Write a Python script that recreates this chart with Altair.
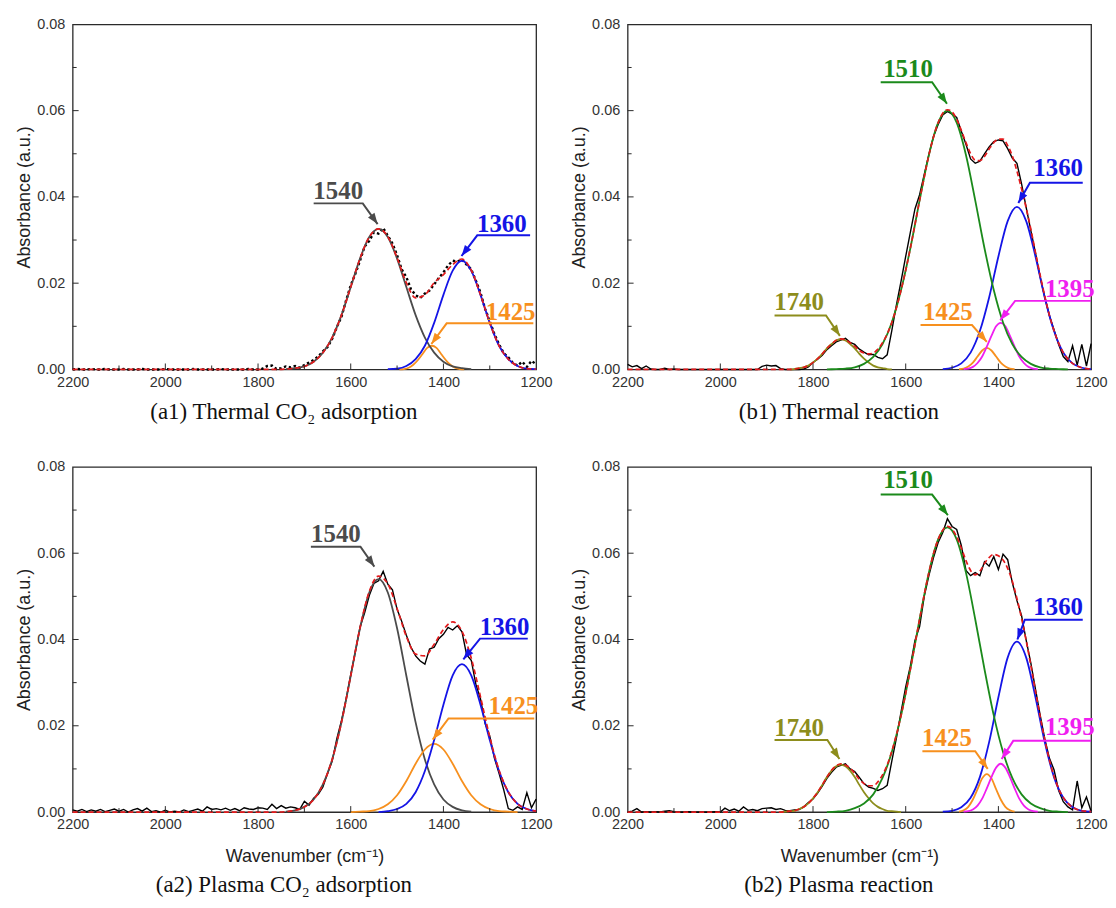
import math
import altair as alt
import pandas as pd

# ---------------- layout / style constants ----------------
W, H = 466, 347
X_LO, X_HI = 1200, 2200
Y_HI = 0.08
FRAME = "#2a2a2a"

GREY = "#4b4b4b"
BLUE = "#1414e6"
ORANGE = "#f7901e"
GREEN = "#1b8a1b"
MAGENTA = "#f01ef0"
OLIVE = "#8d8d1c"
RED = "#e31a1c"

# ---------------- data ----------------
# raw spectra: wavenumber 2200 -> 1200, step 10
A1_RAW = [0.0000, 0.0001, 0.0000, 0.0000, 0.0001, 0.0000, 0.0000, 0.0001, 0.0000, 0.0000,
          0.0000, 0.0001, 0.0000, 0.0000, 0.0000, 0.0001, 0.0000, 0.0000, 0.0000, 0.0000,
          0.0001, 0.0000, 0.0000, 0.0000, 0.0000, 0.0000, 0.0001, 0.0000, 0.0000, 0.0000,
          0.0000, 0.0000, 0.0001, 0.0000, 0.0000, 0.0000, 0.0000, 0.0000, 0.0001, 0.0000,
          0.0000, 0.0002, 0.0008, 0.0009, 0.0001, 0.0003, 0.0007, 0.0005, 0.0008, 0.0004,
          0.0010, 0.0016, 0.0022, 0.0030, 0.0042, 0.0052, 0.0071, 0.0098, 0.0122, 0.0160,
          0.0195, 0.0222, 0.0252, 0.0285, 0.0298, 0.0318, 0.0315, 0.0328, 0.0310, 0.0292,
          0.0265, 0.0232, 0.0214, 0.0186, 0.0172, 0.0166, 0.0176, 0.0183, 0.0197, 0.0212,
          0.0225, 0.0241, 0.0252, 0.0250, 0.0255, 0.0243, 0.0232, 0.0206, 0.0178, 0.0140,
          0.0112, 0.0082, 0.0058, 0.0038, 0.0028, 0.0015, 0.0009, 0.0018, 0.0006, 0.0020,
          0.0012]
B1_RAW = [0.0012, 0.0006, 0.0009, 0.0002, 0.0008, 0.0001, 0.0000, 0.0000, 0.0003, 0.0000,
          0.0001, 0.0000, 0.0000, 0.0000, 0.0000, 0.0000, 0.0000, 0.0000, 0.0000, 0.0000,
          0.0000, 0.0000, 0.0000, 0.0000, 0.0000, 0.0000, 0.0000, 0.0000, 0.0000, 0.0007,
          0.0010, 0.0008, 0.0009, 0.0002, 0.0000, 0.0000, 0.0000, 0.0000, 0.0001, 0.0006,
          0.0016, 0.0024, 0.0033, 0.0046, 0.0055, 0.0064, 0.0068, 0.0072, 0.0063, 0.0058,
          0.0047, 0.0040, 0.0034, 0.0035, 0.0028, 0.0025, 0.0034, 0.0090, 0.0150, 0.0205,
          0.0262, 0.0318, 0.0372, 0.0405, 0.0452, 0.0498, 0.0540, 0.0568, 0.0590, 0.0598,
          0.0592, 0.0584, 0.0552, 0.0522, 0.0488, 0.0478, 0.0483, 0.0500, 0.0516, 0.0528,
          0.0532, 0.0530, 0.0512, 0.0490, 0.0478, 0.0430, 0.0375, 0.0322, 0.0270, 0.0215,
          0.0168, 0.0125, 0.0092, 0.0058, 0.0030, 0.0018, 0.0055, 0.0010, 0.0058, 0.0008,
          0.0060]
A2_RAW = [0.0005, 0.0002, 0.0006, 0.0001, 0.0005, 0.0002, 0.0006, 0.0001, 0.0004, 0.0007,
          0.0002, 0.0006, 0.0000, 0.0005, 0.0008, 0.0002, 0.0009, 0.0001, 0.0003, 0.0000,
          0.0004, 0.0000, 0.0002, 0.0000, 0.0005, 0.0001, 0.0004, 0.0007, 0.0002, 0.0012,
          0.0006, 0.0008, 0.0005, 0.0009, 0.0004, 0.0008, 0.0003, 0.0010, 0.0007, 0.0006,
          0.0010, 0.0009, 0.0006, 0.0018, 0.0008, 0.0015, 0.0009, 0.0012, 0.0010, 0.0006,
          0.0025, 0.0016, 0.0032, 0.0041, 0.0058, 0.0090, 0.0118, 0.0170, 0.0212, 0.0262,
          0.0318, 0.0372, 0.0428, 0.0462, 0.0502, 0.0530, 0.0536, 0.0558, 0.0528, 0.0515,
          0.0470, 0.0442, 0.0410, 0.0382, 0.0362, 0.0350, 0.0343, 0.0378, 0.0382, 0.0402,
          0.0412, 0.0428, 0.0422, 0.0432, 0.0418, 0.0365, 0.0352, 0.0296, 0.0262, 0.0205,
          0.0176, 0.0125, 0.0090, 0.0052, 0.0008, 0.0004, 0.0012, 0.0006, 0.0045, 0.0010,
          0.0030]
B2_RAW = [0.0000, 0.0002, 0.0008, 0.0000, 0.0001, 0.0000, 0.0001, 0.0000, 0.0002, 0.0003,
          0.0001, 0.0000, 0.0000, 0.0001, 0.0000, 0.0000, 0.0000, 0.0000, 0.0000, 0.0001,
          0.0000, 0.0009, 0.0003, 0.0007, 0.0002, 0.0012, 0.0004, 0.0006, 0.0003, 0.0008,
          0.0009, 0.0010, 0.0006, 0.0008, 0.0004, 0.0003, 0.0005, 0.0006, 0.0012, 0.0022,
          0.0030, 0.0044, 0.0060, 0.0078, 0.0092, 0.0104, 0.0108, 0.0112, 0.0100, 0.0094,
          0.0080, 0.0066, 0.0058, 0.0055, 0.0050, 0.0054, 0.0062, 0.0118, 0.0172, 0.0232,
          0.0290, 0.0338, 0.0398, 0.0430, 0.0500, 0.0548, 0.0590, 0.0625, 0.0648, 0.0680,
          0.0662, 0.0655, 0.0618, 0.0560, 0.0548, 0.0555, 0.0548, 0.0580, 0.0570, 0.0592,
          0.0562, 0.0598, 0.0585, 0.0532, 0.0490, 0.0455, 0.0398, 0.0345, 0.0285, 0.0225,
          0.0170, 0.0125, 0.0098, 0.0050, 0.0024, 0.0012, 0.0005, 0.0072, 0.0010, 0.0035,
          0.0002]

# cumulative fits (red dashed): (first wavenumber, step, values)
A1_FIT = (1760, 20, [0.0000, 0.0001, 0.0003, 0.0007, 0.0018, 0.0039, 0.0074, 0.0126, 0.0191, 0.0257,
                     0.0307, 0.0326, 0.0308, 0.0259, 0.0201, 0.0166, 0.0173, 0.0201, 0.0220, 0.0243,
                     0.0256, 0.0230, 0.0173, 0.0108, 0.0055, 0.0024, 0.0008, 0.0002, 0.0001])
A2_FIT = (1760, 20, [0.0000, 0.0001, 0.0004, 0.0012, 0.0029, 0.0064, 0.0122, 0.0208, 0.0316, 0.0427,
                     0.0511, 0.0547, 0.0529, 0.0472, 0.0407, 0.0366, 0.0362, 0.0389, 0.0423, 0.0441,
                     0.0419, 0.0357, 0.0267, 0.0174, 0.0097, 0.0047, 0.0019, 0.0007, 0.0002])
B1_FIT = (1850, 10, [0.0000, 0.0001, 0.0003, 0.0005, 0.0009, 0.0016, 0.0025, 0.0036, 0.0049, 0.0059,
                     0.0068, 0.0071, 0.0069, 0.0062, 0.0054, 0.0044, 0.0038, 0.0036, 0.0038, 0.0047,
                     0.0062, 0.0082, 0.0109, 0.0143, 0.0184, 0.0230, 0.0281, 0.0336, 0.0392, 0.0446,
                     0.0497, 0.0539, 0.0572, 0.0594, 0.0602, 0.0597, 0.0580, 0.0554, 0.0526, 0.0500,
                     0.0485, 0.0484, 0.0494, 0.0511, 0.0526, 0.0534, 0.0534, 0.0519, 0.0495, 0.0460,
                     0.0419, 0.0374, 0.0325, 0.0271, 0.0219, 0.0170, 0.0126, 0.0090, 0.0061, 0.0039,
                     0.0024, 0.0014, 0.0008, 0.0004, 0.0002, 0.0001])
B2_FIT = (1870, 10, [0.0000, 0.0001, 0.0002, 0.0003, 0.0007, 0.0012, 0.0020, 0.0032, 0.0046, 0.0063,
                     0.0081, 0.0097, 0.0107, 0.0112, 0.0109, 0.0102, 0.0090, 0.0076, 0.0066, 0.0061,
                     0.0061, 0.0070, 0.0086, 0.0109, 0.0141, 0.0179, 0.0224, 0.0275, 0.0331, 0.0389,
                     0.0447, 0.0504, 0.0555, 0.0599, 0.0632, 0.0654, 0.0662, 0.0656, 0.0638, 0.0612,
                     0.0583, 0.0560, 0.0550, 0.0558, 0.0576, 0.0590, 0.0597, 0.0594, 0.0584, 0.0565,
                     0.0535, 0.0495, 0.0449, 0.0397, 0.0340, 0.0280, 0.0222, 0.0168, 0.0121, 0.0083,
                     0.0054, 0.0034, 0.0020, 0.0011, 0.0006, 0.0003, 0.0002, 0.0001])

# fitted components: (first wavenumber, step, values)
A1_C1540 = (1740, 20, [0.0001, 0.0003, 0.0007, 0.0018, 0.0039, 0.0074, 0.0126, 0.0191, 0.0257, 0.0307,
                       0.0326, 0.0307, 0.0257, 0.0191, 0.0126, 0.0074, 0.0039, 0.0018, 0.0007, 0.0003, 0.0001])
A1_C1360 = (1520, 20, [0.0001, 0.0002, 0.0008, 0.0024, 0.0055, 0.0108, 0.0173, 0.0229, 0.0252, 0.0229,
                       0.0173, 0.0108, 0.0055, 0.0024, 0.0008, 0.0002, 0.0001])
A1_C1425 = (1495, 10, [0.0000, 0.0001, 0.0004, 0.0011, 0.0022, 0.0036, 0.0050, 0.0055, 0.0050, 0.0036,
                       0.0022, 0.0011, 0.0004, 0.0001, 0.0000])

A2_C1540 = (1740, 20, [0.0001, 0.0004, 0.0012, 0.0029, 0.0064, 0.0122, 0.0208, 0.0316, 0.0426, 0.0509,
                       0.0540, 0.0509, 0.0426, 0.0316, 0.0208, 0.0122, 0.0064, 0.0029, 0.0012, 0.0004, 0.0001])
A2_C1360 = (1540, 20, [0.0000, 0.0002, 0.0007, 0.0019, 0.0046, 0.0095, 0.0167, 0.0249, 0.0317, 0.0343,
                       0.0317, 0.0249, 0.0167, 0.0095, 0.0046, 0.0019, 0.0007, 0.0002])
A2_C1425 = (1600, 20, [0.0000, 0.0001, 0.0002, 0.0007, 0.0018, 0.0039, 0.0072, 0.0112, 0.0145, 0.0158,
                       0.0145, 0.0112, 0.0072, 0.0039, 0.0018, 0.0007, 0.0002, 0.0001, 0.0000])

B1_C1740 = (1850, 10, [0.0000, 0.0001, 0.0003, 0.0005, 0.0009, 0.0016, 0.0025, 0.0036, 0.0049, 0.0059,
                       0.0067, 0.0070, 0.0067, 0.0059, 0.0049, 0.0036, 0.0025, 0.0016, 0.0009, 0.0005,
                       0.0003, 0.0001, 0.0000])
B1_C1510 = (1770, 20, [0.0000, 0.0001, 0.0002, 0.0005, 0.0013, 0.0029, 0.0059, 0.0109, 0.0184, 0.0281,
                       0.0392, 0.0497, 0.0572, 0.0600, 0.0572, 0.0497, 0.0392, 0.0281, 0.0184, 0.0109,
                       0.0059, 0.0029, 0.0013, 0.0005, 0.0002, 0.0001, 0.0000])
B1_C1425 = (1485, 10, [0.0001, 0.0002, 0.0007, 0.0016, 0.0030, 0.0044, 0.0050, 0.0044, 0.0030, 0.0016,
                       0.0007, 0.0002, 0.0001])
B1_C1395 = (1475, 10, [0.0001, 0.0002, 0.0006, 0.0015, 0.0030, 0.0053, 0.0078, 0.0100, 0.0108, 0.0100,
                       0.0078, 0.0053, 0.0030, 0.0015, 0.0006, 0.0002, 0.0001])
B1_C1360 = (1520, 20, [0.0001, 0.0004, 0.0014, 0.0039, 0.0089, 0.0167, 0.0262, 0.0344, 0.0377, 0.0344,
                       0.0262, 0.0167, 0.0089, 0.0039, 0.0014, 0.0004, 0.0001])

B2_C1740 = (1870, 10, [0.0000, 0.0001, 0.0002, 0.0003, 0.0007, 0.0012, 0.0020, 0.0032, 0.0046, 0.0063,
                       0.0081, 0.0096, 0.0106, 0.0110, 0.0106, 0.0096, 0.0081, 0.0063, 0.0046, 0.0032,
                       0.0020, 0.0012, 0.0007, 0.0003, 0.0002, 0.0001, 0.0000])
B2_C1510 = (1770, 20, [0.0000, 0.0001, 0.0003, 0.0009, 0.0020, 0.0041, 0.0079, 0.0139, 0.0224, 0.0331,
                       0.0447, 0.0555, 0.0632, 0.0660, 0.0632, 0.0555, 0.0447, 0.0331, 0.0224, 0.0139,
                       0.0079, 0.0041, 0.0020, 0.0009, 0.0003, 0.0001, 0.0000])
B2_C1425 = (1485, 10, [0.0001, 0.0004, 0.0012, 0.0029, 0.0053, 0.0078, 0.0088, 0.0078, 0.0053, 0.0029,
                       0.0012, 0.0004, 0.0001])
B2_C1395 = (1475, 10, [0.0001, 0.0002, 0.0006, 0.0015, 0.0031, 0.0055, 0.0081, 0.0103, 0.0112, 0.0103,
                       0.0081, 0.0055, 0.0031, 0.0015, 0.0006, 0.0002, 0.0001])
B2_C1360 = (1520, 20, [0.0001, 0.0003, 0.0011, 0.0033, 0.0081, 0.0162, 0.0266, 0.0358, 0.0395, 0.0358,
                       0.0266, 0.0162, 0.0081, 0.0033, 0.0011, 0.0003, 0.0001])

# peak labels: (text, colour, text position, [line start, bend, arrow tip])
A1_NOTES = [("1540", GREY, (1627, 0.0413), [(1680, 0.0385), (1574, 0.0385), (1542, 0.0337)]),
            ("1360", BLUE, (1274, 0.0337), [(1213, 0.0311), (1327, 0.0311), (1361, 0.0263)]),
            ("1425", ORANGE, (1255, 0.0134), [(1206, 0.0107), (1393, 0.0107), (1426, 0.0059)])]
B1_NOTES = [("1510", GREEN, (1595, 0.0697), [(1654, 0.0666), (1543, 0.0666), (1511, 0.0616)]),
            ("1360", BLUE, (1271, 0.0466), [(1218, 0.0433), (1332, 0.0433), (1357, 0.0386)]),
            ("1395", MAGENTA, (1246, 0.0187), [(1200, 0.0159), (1364, 0.0159), (1396, 0.0114)]),
            ("1425", ORANGE, (1509, 0.0132), [(1568, 0.0103), (1457, 0.0103), (1425, 0.0064)]),
            ("1740", OLIVE, (1830, 0.0157), [(1883, 0.0125), (1772, 0.0125), (1742, 0.0078)])]
A2_NOTES = [("1540", GREY, (1632, 0.0645), [(1686, 0.0615), (1579, 0.0615), (1549, 0.0569)]),
            ("1360", BLUE, (1268, 0.0429), [(1218, 0.0402), (1321, 0.0402), (1357, 0.0354)]),
            ("1425", ORANGE, (1249, 0.0245), [(1204, 0.0217), (1389, 0.0217), (1423, 0.0168)])]
B2_NOTES = [("1510", GREEN, (1595, 0.0769), [(1654, 0.0736), (1543, 0.0736), (1509, 0.0688)]),
            ("1360", BLUE, (1271, 0.0475), [(1218, 0.0446), (1343, 0.0446), (1359, 0.0400)]),
            ("1395", MAGENTA, (1246, 0.0197), [(1200, 0.0165), (1368, 0.0165), (1393, 0.0123)]),
            ("1425", ORANGE, (1511, 0.0172), [(1564, 0.0141), (1450, 0.0141), (1423, 0.0100)]),
            ("1740", OLIVE, (1830, 0.0195), [(1883, 0.0167), (1769, 0.0167), (1743, 0.0123)])]

X_LABELS = [2200, 2000, 1800, 1600, 1400, 1200]
X_INNER_MAJOR = [2000, 1800, 1600, 1400]
X_INNER_MINOR = [2100, 1900, 1700, 1500, 1300]
Y_LABELS = [0.0, 0.02, 0.04, 0.06, 0.08]
Y_INNER_MAJOR = [0.02, 0.04, 0.06]
Y_INNER_MINOR = [0.01, 0.03, 0.05, 0.07]

ARROW = "M0,0L-0.8,2.2L0.8,2.2Z"

AXIS_STYLE = dict(labelFont="Liberation Sans", labelFontSize=14.5, labelColor="#333333",
                  titleFont="Liberation Sans", titleFontSize=18, titleFontWeight="normal",
                  titleColor="#222222", domain=False, ticks=False, grid=False,
                  labelFlush=False, labelOverlap=False)


def frame(first, step, vals):
    return pd.DataFrame({"wn": [first - i * step for i in range(len(vals))], "a": vals})


def panel(raw, dotted, fit, comps, notes, caption, xtitle, cap_offset):
    if xtitle:
        xaxis = alt.Axis(values=X_LABELS, format="d", title=xtitle, titlePadding=16, labelPadding=6,
                         **AXIS_STYLE)
    else:
        xaxis = alt.Axis(values=X_LABELS, format="d", title=None, labelPadding=6, **AXIS_STYLE)
    yaxis = alt.Axis(values=Y_LABELS, format=".2f", title="Absorbance (a.u.)", titlePadding=3,
                     labelPadding=8, **AXIS_STYLE)
    X = alt.X("wn:Q", scale=alt.Scale(domain=[X_LO, X_HI], reverse=True, nice=False, zero=False), axis=xaxis)
    Y = alt.Y("a:Q", scale=alt.Scale(domain=[0, Y_HI], nice=False, zero=False), axis=yaxis)

    layers = []
    raw_df = frame(X_HI, 10, raw)
    if dotted:
        raw_mark = alt.Chart(raw_df).mark_line(color="black", strokeWidth=2.4, strokeDash=[2.5, 2.5])
    else:
        raw_mark = alt.Chart(raw_df).mark_line(color="black", strokeWidth=1.4)
    layers.append(raw_mark.encode(x=X, y=Y))

    for colour, spec in comps:
        layers.append(alt.Chart(frame(*spec)).mark_line(color=colour, strokeWidth=1.8,
                                                        interpolate="monotone").encode(x=X, y=Y))

    f0, fstep, fvals = fit
    fit_df = pd.concat([pd.DataFrame({"wn": [X_HI], "a": [0.0]}), frame(f0, fstep, fvals)])
    layers.append(alt.Chart(fit_df).mark_line(color=RED, strokeWidth=1.7, strokeDash=[5, 3],
                                              interpolate="monotone").encode(x=X, y=Y))

    # inward ticks
    layers.append(alt.Chart(pd.DataFrame({"wn": X_INNER_MAJOR})).mark_rule(color=FRAME, strokeWidth=1)
                  .encode(x=X, y=alt.value(H), y2=alt.value(H - 6)))
    layers.append(alt.Chart(pd.DataFrame({"wn": X_INNER_MINOR})).mark_rule(color=FRAME, strokeWidth=1)
                  .encode(x=X, y=alt.value(H), y2=alt.value(H - 4)))
    layers.append(alt.Chart(pd.DataFrame({"a": Y_INNER_MAJOR})).mark_rule(color=FRAME, strokeWidth=1)
                  .encode(y=Y, x=alt.value(0), x2=alt.value(6)))
    layers.append(alt.Chart(pd.DataFrame({"a": Y_INNER_MINOR})).mark_rule(color=FRAME, strokeWidth=1)
                  .encode(y=Y, x=alt.value(0), x2=alt.value(4)))

    # annotations
    path_rows, text_rows, head_rows = [], [], []
    for k, (label, colour, (tx, ty), pts) in enumerate(notes):
        text_rows.append({"wn": tx, "a": ty, "label": label, "col": colour})
        for j, (px, py) in enumerate(pts):
            path_rows.append({"id": k, "ord": j, "wn": px, "a": py, "col": colour})
        (bx, by), (tx2, ty2) = pts[1], pts[2]
        dx = -(tx2 - bx) * W / (X_HI - X_LO)
        dy = -(ty2 - by) * H / Y_HI
        ang = math.degrees(math.atan2(dx, -dy)) % 360
        head_rows.append({"wn": tx2, "a": ty2, "ang": ang, "col": colour})

    layers.append(alt.Chart(pd.DataFrame(path_rows)).mark_line(strokeWidth=2).encode(
        x=X, y=Y, detail="id:N", order="ord:Q", color=alt.Color("col:N", scale=None)))
    layers.append(alt.Chart(pd.DataFrame(head_rows)).mark_point(shape=ARROW, filled=True, size=100, opacity=1,
                                                                 strokeWidth=0).encode(
        x=X, y=Y, angle=alt.Angle("ang:Q", scale=None), color=alt.Color("col:N", scale=None)))
    layers.append(alt.Chart(pd.DataFrame(text_rows)).mark_text(font="Liberation Serif", fontWeight="bold",
                                                                fontSize=25, baseline="middle",
                                                                align="center").encode(
        x=X, y=Y, text="label:N", color=alt.Color("col:N", scale=None)))

    return alt.layer(*layers).properties(
        width=W, height=H,
        title=alt.TitleParams(text=caption, orient="bottom", font="Liberation Serif", fontSize=23,
                              fontWeight="normal", color="#111111", offset=cap_offset, anchor="middle",
                              frame="bounds"))


a1 = panel(A1_RAW, True, A1_FIT, [(ORANGE, A1_C1425), (GREY, A1_C1540), (BLUE, A1_C1360)],
           A1_NOTES, "(a1) Thermal CO\u2082 adsorption", None, 12)
b1 = panel(B1_RAW, False, B1_FIT, [(OLIVE, B1_C1740), (ORANGE, B1_C1425), (MAGENTA, B1_C1395),
                                   (BLUE, B1_C1360), (GREEN, B1_C1510)],
           B1_NOTES, "(b1) Thermal reaction", None, 12)
a2 = panel(A2_RAW, False, A2_FIT, [(GREY, A2_C1540), (ORANGE, A2_C1425), (BLUE, A2_C1360)],
           A2_NOTES, "(a2) Plasma CO\u2082 adsorption", "Wavenumber (cm\u207b\u00b9)", 9)
b2 = panel(B2_RAW, False, B2_FIT, [(OLIVE, B2_C1740), (ORANGE, B2_C1425), (MAGENTA, B2_C1395),
                                   (BLUE, B2_C1360), (GREEN, B2_C1510)],
           B2_NOTES, "(b2) Plasma reaction", "Wavenumber (cm\u207b\u00b9)", 9)

chart = alt.vconcat(
    alt.hconcat(a1, b1, spacing=17),
    alt.hconcat(a2, b2, spacing=17),
    spacing=33,
    background="white",
    padding={"left": 7, "top": 5, "right": 0, "bottom": 0},
).configure_view(
    stroke=FRAME, strokeWidth=1.3
)

chart.save("out.html", embed_options={"renderer": "svg", "actions": False})
